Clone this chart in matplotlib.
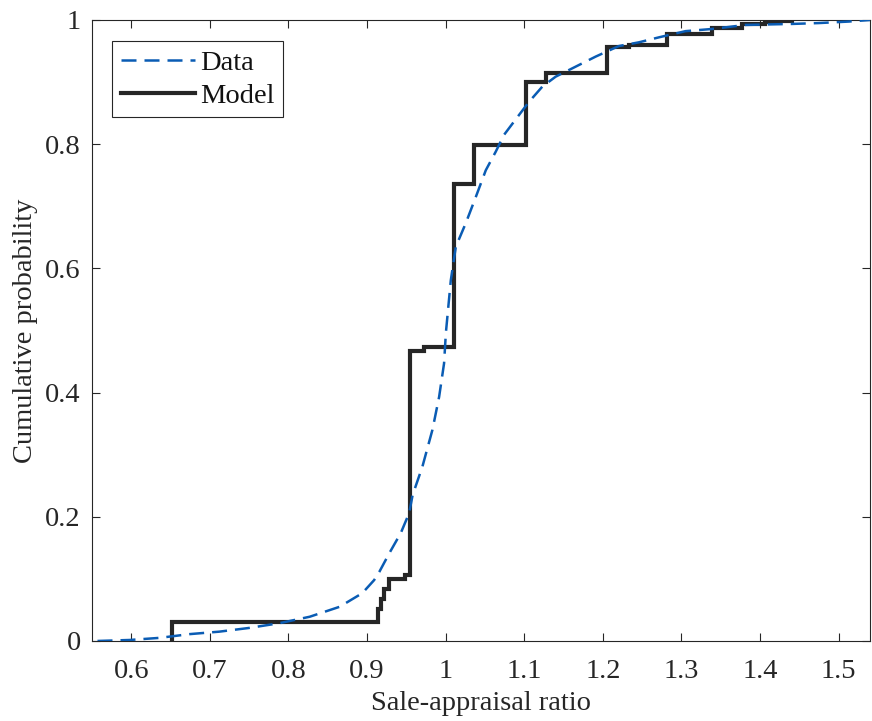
import matplotlib
matplotlib.use("Agg")
import matplotlib.pyplot as plt

plt.rcParams['font.family'] = ['Liberation Serif', 'DejaVu Serif']
plt.rcParams['mathtext.fontset'] = 'stix'

# Empirical CDF of observed sale-appraisal ratios
data_x = [0.557, 0.598, 0.636, 0.674, 0.712, 0.750, 0.788, 0.827, 0.865, 0.894,
          0.909, 0.9155, 0.9282, 0.943, 0.9536, 0.958, 0.9705, 0.9832, 0.9917,
          0.998, 1.0003, 1.0066, 1.0130, 1.0257, 1.0384, 1.0511, 1.0638, 1.0743,
          1.0892, 1.106, 1.123, 1.140, 1.161, 1.1909, 1.2204, 1.2459, 1.2713,
          1.3052, 1.339, 1.3815, 1.440, 1.4745, 1.5126, 1.54]
data_y = [0.0, 0.0016, 0.005, 0.011, 0.015, 0.021, 0.0285, 0.039, 0.055, 0.077,
          0.098, 0.111, 0.141, 0.174, 0.206, 0.235, 0.281, 0.340, 0.393,
          0.447, 0.496, 0.581, 0.635, 0.673, 0.715, 0.758, 0.788, 0.815,
          0.840, 0.868, 0.8926, 0.9087, 0.922, 0.941, 0.958, 0.964, 0.972,
          0.982, 0.9855, 0.992, 0.9936, 0.995, 0.9974, 1.0]

# Model CDF: jump locations and cumulative levels after each jump
model_x = [0.652, 0.652, 0.9134, 0.918, 0.922, 0.928, 0.9485, 0.9545, 0.9727,
           1.0108, 1.0362, 1.1019, 1.1273, 1.2056, 1.233, 1.282, 1.339, 1.377,
           1.407, 1.425, 1.441]
model_y = [0.0, 0.030, 0.052, 0.068, 0.083, 0.099, 0.106, 0.4675, 0.473,
           0.736, 0.799, 0.9007, 0.914, 0.956, 0.960, 0.9775, 0.9866, 0.9936,
           0.996, 0.998, 1.0]

x_ticks = [0.6, 0.7, 0.8, 0.9, 1.0, 1.1, 1.2, 1.3, 1.4, 1.5]
x_tick_labels = ['0.6', '0.7', '0.8', '0.9', '1', '1.1', '1.2', '1.3', '1.4', '1.5']
y_ticks = [0, 0.2, 0.4, 0.6, 0.8, 1.0]
y_tick_labels = ['0', '0.2', '0.4', '0.6', '0.8', '1']

fig = plt.figure(figsize=(8.72, 7.21), dpi=100)
ax = fig.add_axes([0.1055, 0.111, 0.8922, 0.8613])

ax.plot(data_x, data_y, color='#0a5cb4', lw=1.8, linestyle=(0, (6, 3.2)),
        label='Data', zorder=3)
ax.plot(model_x, model_y, color='#262626', lw=3.0, drawstyle='steps-post',
        label='Model', zorder=2, solid_joinstyle='miter')

ax.set_xlim(0.55, 1.54)
ax.set_ylim(0, 1)
ax.set_xticks(x_ticks)
ax.set_xticklabels(x_tick_labels)
ax.set_yticks(y_ticks)
ax.set_yticklabels(y_tick_labels)

ax.tick_params(direction='in', length=6, width=0.8, colors='#262626',
               top=True, right=True, labelsize=20.5)
ax.tick_params(axis='x', pad=13)
ax.tick_params(axis='y', pad=8)
for sp in ax.spines.values():
    sp.set_color('#262626')
    sp.set_linewidth(0.8)

ax.set_xlabel('Sale-appraisal ratio', fontsize=20.5, color='#262626', labelpad=5)
ax.set_ylabel('Cumulative probability', fontsize=20.5, color='#262626', labelpad=5)

leg = ax.legend(loc='upper left', bbox_to_anchor=(0.0257, 0.966), borderaxespad=0,
                fontsize=20.5, fancybox=False, edgecolor='#262626', framealpha=1,
                handlelength=2.6, handletextpad=0.2, borderpad=0.3,
                labelspacing=0.25)
leg.get_frame().set_linewidth(0.8)
for t in leg.get_texts():
    t.set_color('#111111')

fig.savefig('out.png', dpi=100)
